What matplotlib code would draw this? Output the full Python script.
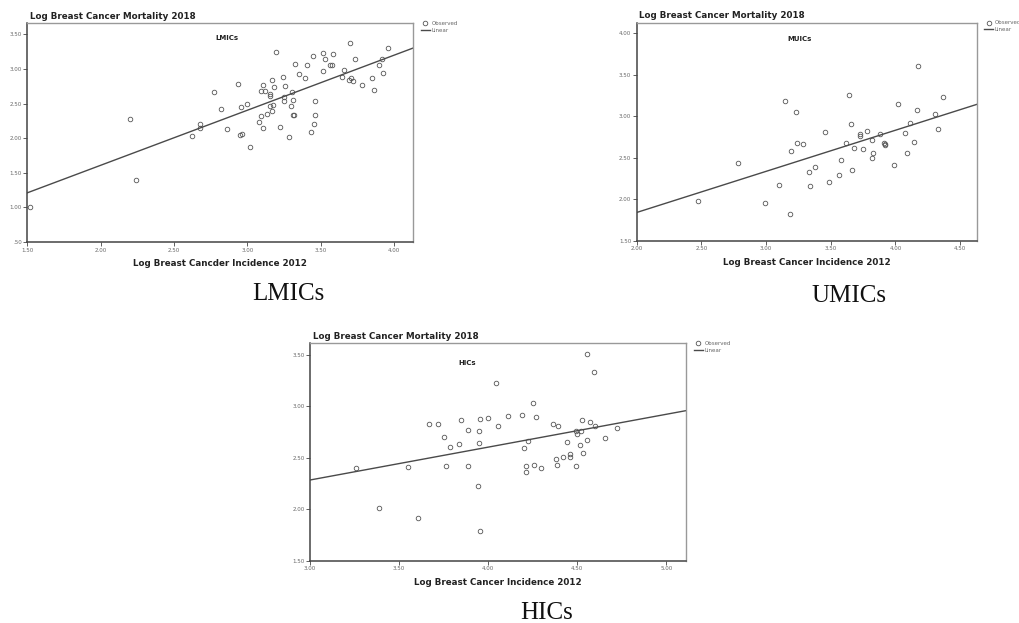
import matplotlib
matplotlib.use("Agg")
import matplotlib.pyplot as plt

# LMICs
lmic_x = [1.52, 2.20, 2.24, 2.62, 2.675, 2.675, 2.77, 2.82, 2.86, 2.94, 2.96, 3.00,
          2.95, 2.966, 3.016, 3.077, 3.093, 3.095, 3.109, 3.123, 3.109, 3.134, 3.157,
          3.157, 3.155, 3.166, 3.173, 3.17, 3.182, 3.195, 3.223, 3.243, 3.25, 3.252,
          3.259, 3.282, 3.305, 3.30, 3.311, 3.309, 3.316, 3.327, 3.35, 3.395, 3.409,
          3.432, 3.448, 3.461, 3.461, 3.457, 3.516, 3.518, 3.53, 3.564, 3.58, 3.582,
          3.645, 3.659, 3.70, 3.695, 3.709, 3.723, 3.734, 3.786, 3.852, 3.864, 3.902,
          3.918, 3.923, 3.961]
lmic_y = [1.00, 2.28, 1.39, 2.03, 2.21, 2.14, 2.67, 2.42, 2.13, 2.79, 2.45, 2.50,
          2.04, 2.06, 1.875, 2.236, 2.678, 2.327, 2.774, 2.688, 2.149, 2.356, 2.644,
          2.615, 2.462, 2.394, 2.486, 2.841, 2.745, 3.24, 2.168, 2.88, 2.59, 2.543,
          2.75, 2.019, 2.673, 2.471, 2.548, 2.332, 2.332, 3.072, 2.928, 2.87, 3.053,
          2.096, 3.183, 2.534, 2.337, 2.202, 3.236, 2.966, 3.139, 3.058, 3.058, 3.216,
          2.885, 2.986, 3.38, 2.836, 2.87, 2.822, 3.139, 2.769, 2.87, 2.702, 3.063,
          3.149, 2.942, 3.298]

# UMICs
umic_x = [2.477, 2.781, 2.992, 3.098, 3.149, 3.183, 3.196, 3.229, 3.237, 3.289, 3.332,
          3.338, 3.379, 3.454, 3.487, 3.567, 3.577, 3.619, 3.639, 3.657, 3.668, 3.678,
          3.724, 3.724, 3.75, 3.781, 3.817, 3.82, 3.827, 3.881, 3.912, 3.918, 3.923,
          3.987, 4.023, 4.07, 4.088, 4.144, 4.111, 4.165, 4.175, 4.307, 4.332, 4.369]
umic_y = [1.982, 2.432, 1.954, 2.171, 3.188, 1.822, 2.577, 3.051, 2.678, 2.670, 2.328,
          2.159, 2.388, 2.806, 2.203, 2.288, 2.473, 2.678, 3.26, 2.911, 2.348, 2.613,
          2.79, 2.758, 2.605, 2.818, 2.50, 2.71, 2.553, 2.782, 2.678, 2.662, 2.65,
          2.408, 3.144, 2.794, 2.561, 2.694, 2.915, 3.08, 3.606, 3.027, 2.842, 3.228]

# HICs
hic_x = [3.26, 3.389, 3.551, 3.607, 3.669, 3.72, 3.751, 3.764, 3.785, 3.834, 3.845,
         3.886, 3.886, 3.946, 3.944, 3.951, 3.955, 3.955, 4.0, 4.043, 4.054, 4.11,
         4.189, 4.20, 4.213, 4.211, 4.224, 4.249, 4.256, 4.267, 4.295, 4.364, 4.379,
         4.389, 4.393, 4.422, 4.445, 4.458, 4.458, 4.492, 4.495, 4.501, 4.516, 4.52,
         4.527, 4.535, 4.553, 4.557, 4.57, 4.596, 4.598, 4.656, 4.721]
hic_y = [2.396, 2.011, 2.406, 1.911, 2.827, 2.827, 2.70, 2.416, 2.60, 2.633, 2.869,
         2.772, 2.416, 2.646, 2.228, 2.759, 2.875, 1.788, 2.882, 3.225, 2.804, 2.901,
         2.917, 2.594, 2.422, 2.358, 2.659, 3.031, 2.432, 2.892, 2.396, 2.827, 2.49,
         2.432, 2.807, 2.51, 2.652, 2.536, 2.51, 2.762, 2.422, 2.733, 2.623, 2.756,
         2.869, 2.542, 3.503, 2.668, 2.846, 3.332, 2.804, 2.688, 2.791]

# droites de regression (ordonnee a l'origine, pente)
lmic_fit = (0.018, 0.795)
umic_fit = (0.848, 0.496)
hic_fit = (1.326, 0.319)

panneaux = [
    dict(x=lmic_x, y=lmic_y, fit=lmic_fit, pos=[0.0268, 0.6116, 0.378, 0.351],
         xlim=(1.5, 4.13), ylim=(0.5, 3.66), xt=[1.5, 2.0, 2.5, 3.0, 3.5, 4.0],
         yt=[0.5, 1.0, 1.5, 2.0, 2.5, 3.0, 3.5], nom="LMICs", nom_pos=(0.518, 0.932),
         xlab="Log Breast Cancder Incidence 2012", bas="LMICs", bas_pos=(288, 300)),
    dict(x=umic_x, y=umic_y, fit=umic_fit, pos=[0.6242, 0.6137, 0.3336, 0.350],
         xlim=(2.0, 4.63), ylim=(1.5, 4.13), xt=[2.0, 2.5, 3.0, 3.5, 4.0, 4.5],
         yt=[1.5, 2.0, 2.5, 3.0, 3.5, 4.0], nom="MUICs", nom_pos=(0.48, 0.925),
         xlab="Log Breast Cancer Incidence 2012", bas="UMICs", bas_pos=(849, 302)),
    dict(x=hic_x, y=hic_y, fit=hic_fit, pos=[0.3039, 0.100, 0.3686, 0.349],
         xlim=(3.0, 5.11), ylim=(1.5, 3.61), xt=[3.0, 3.5, 4.0, 4.5, 5.0],
         yt=[1.5, 2.0, 2.5, 3.0, 3.5], nom="HICs", nom_pos=(0.418, 0.909),
         xlab="Log Breast Cancer Incidence 2012", bas="HICs", bas_pos=(547, 619)),
]

def fmt(v):
    s = "%.2f" % v
    return s[1:] if s.startswith("0") else s

fig = plt.figure(figsize=(10.2, 6.23), dpi=100)

for p in panneaux:
    ax = fig.add_axes(p["pos"])
    ax.plot(p["x"], p["y"], "o", ms=3.3, mfc="none", mec="#555555", mew=0.6,
            label="Observed", clip_on=False)
    x0, x1 = p["xlim"]
    a, b = p["fit"]
    ax.plot([x0, x1], [a + b * x0, a + b * x1], color="#4a4a4a", lw=1.0, label="Linear")
    ax.set_xlim(x0, x1)
    ax.set_ylim(*p["ylim"])
    ax.set_xticks(p["xt"])
    ax.set_xticklabels([fmt(v) for v in p["xt"]])
    ax.set_yticks(p["yt"])
    ax.set_yticklabels([fmt(v) for v in p["yt"]])
    ax.tick_params(direction="out", length=3, width=0.6, labelsize=4,
                   labelcolor="#666666", color="#444444", pad=1)
    for c in ["left", "bottom"]:
        ax.spines[c].set_color("#444444")
        ax.spines[c].set_linewidth(1.1)
    for c in ["top", "right"]:
        ax.spines[c].set_color("#999999")
        ax.spines[c].set_linewidth(1.0)
    ax.text(0.007, 1.012, "Log Breast Cancer Mortality 2018", transform=ax.transAxes,
            ha="left", va="bottom", fontsize=6.3, fontweight="bold", color="#222222")
    ax.set_xlabel(p["xlab"], fontsize=6.3, fontweight="bold", color="#222222", labelpad=5)
    ax.text(p["nom_pos"][0], p["nom_pos"][1], p["nom"], transform=ax.transAxes,
            ha="center", va="center", fontsize=5, fontweight="bold", color="#222222")
    leg = ax.legend(loc="upper left", bbox_to_anchor=(1.015, 1.02), frameon=False,
                    fontsize=4, handlelength=1.6, handletextpad=0.3, labelspacing=0.3,
                    borderaxespad=0)
    for t in leg.get_texts():
        t.set_color("#666666")
    fig.text(p["bas_pos"][0] / 1020, 1 - p["bas_pos"][1] / 623, p["bas"],
             ha="center", va="baseline", fontsize=18, family="Liberation Serif",
             color="#111111")

fig.savefig("out.png", dpi=100)
